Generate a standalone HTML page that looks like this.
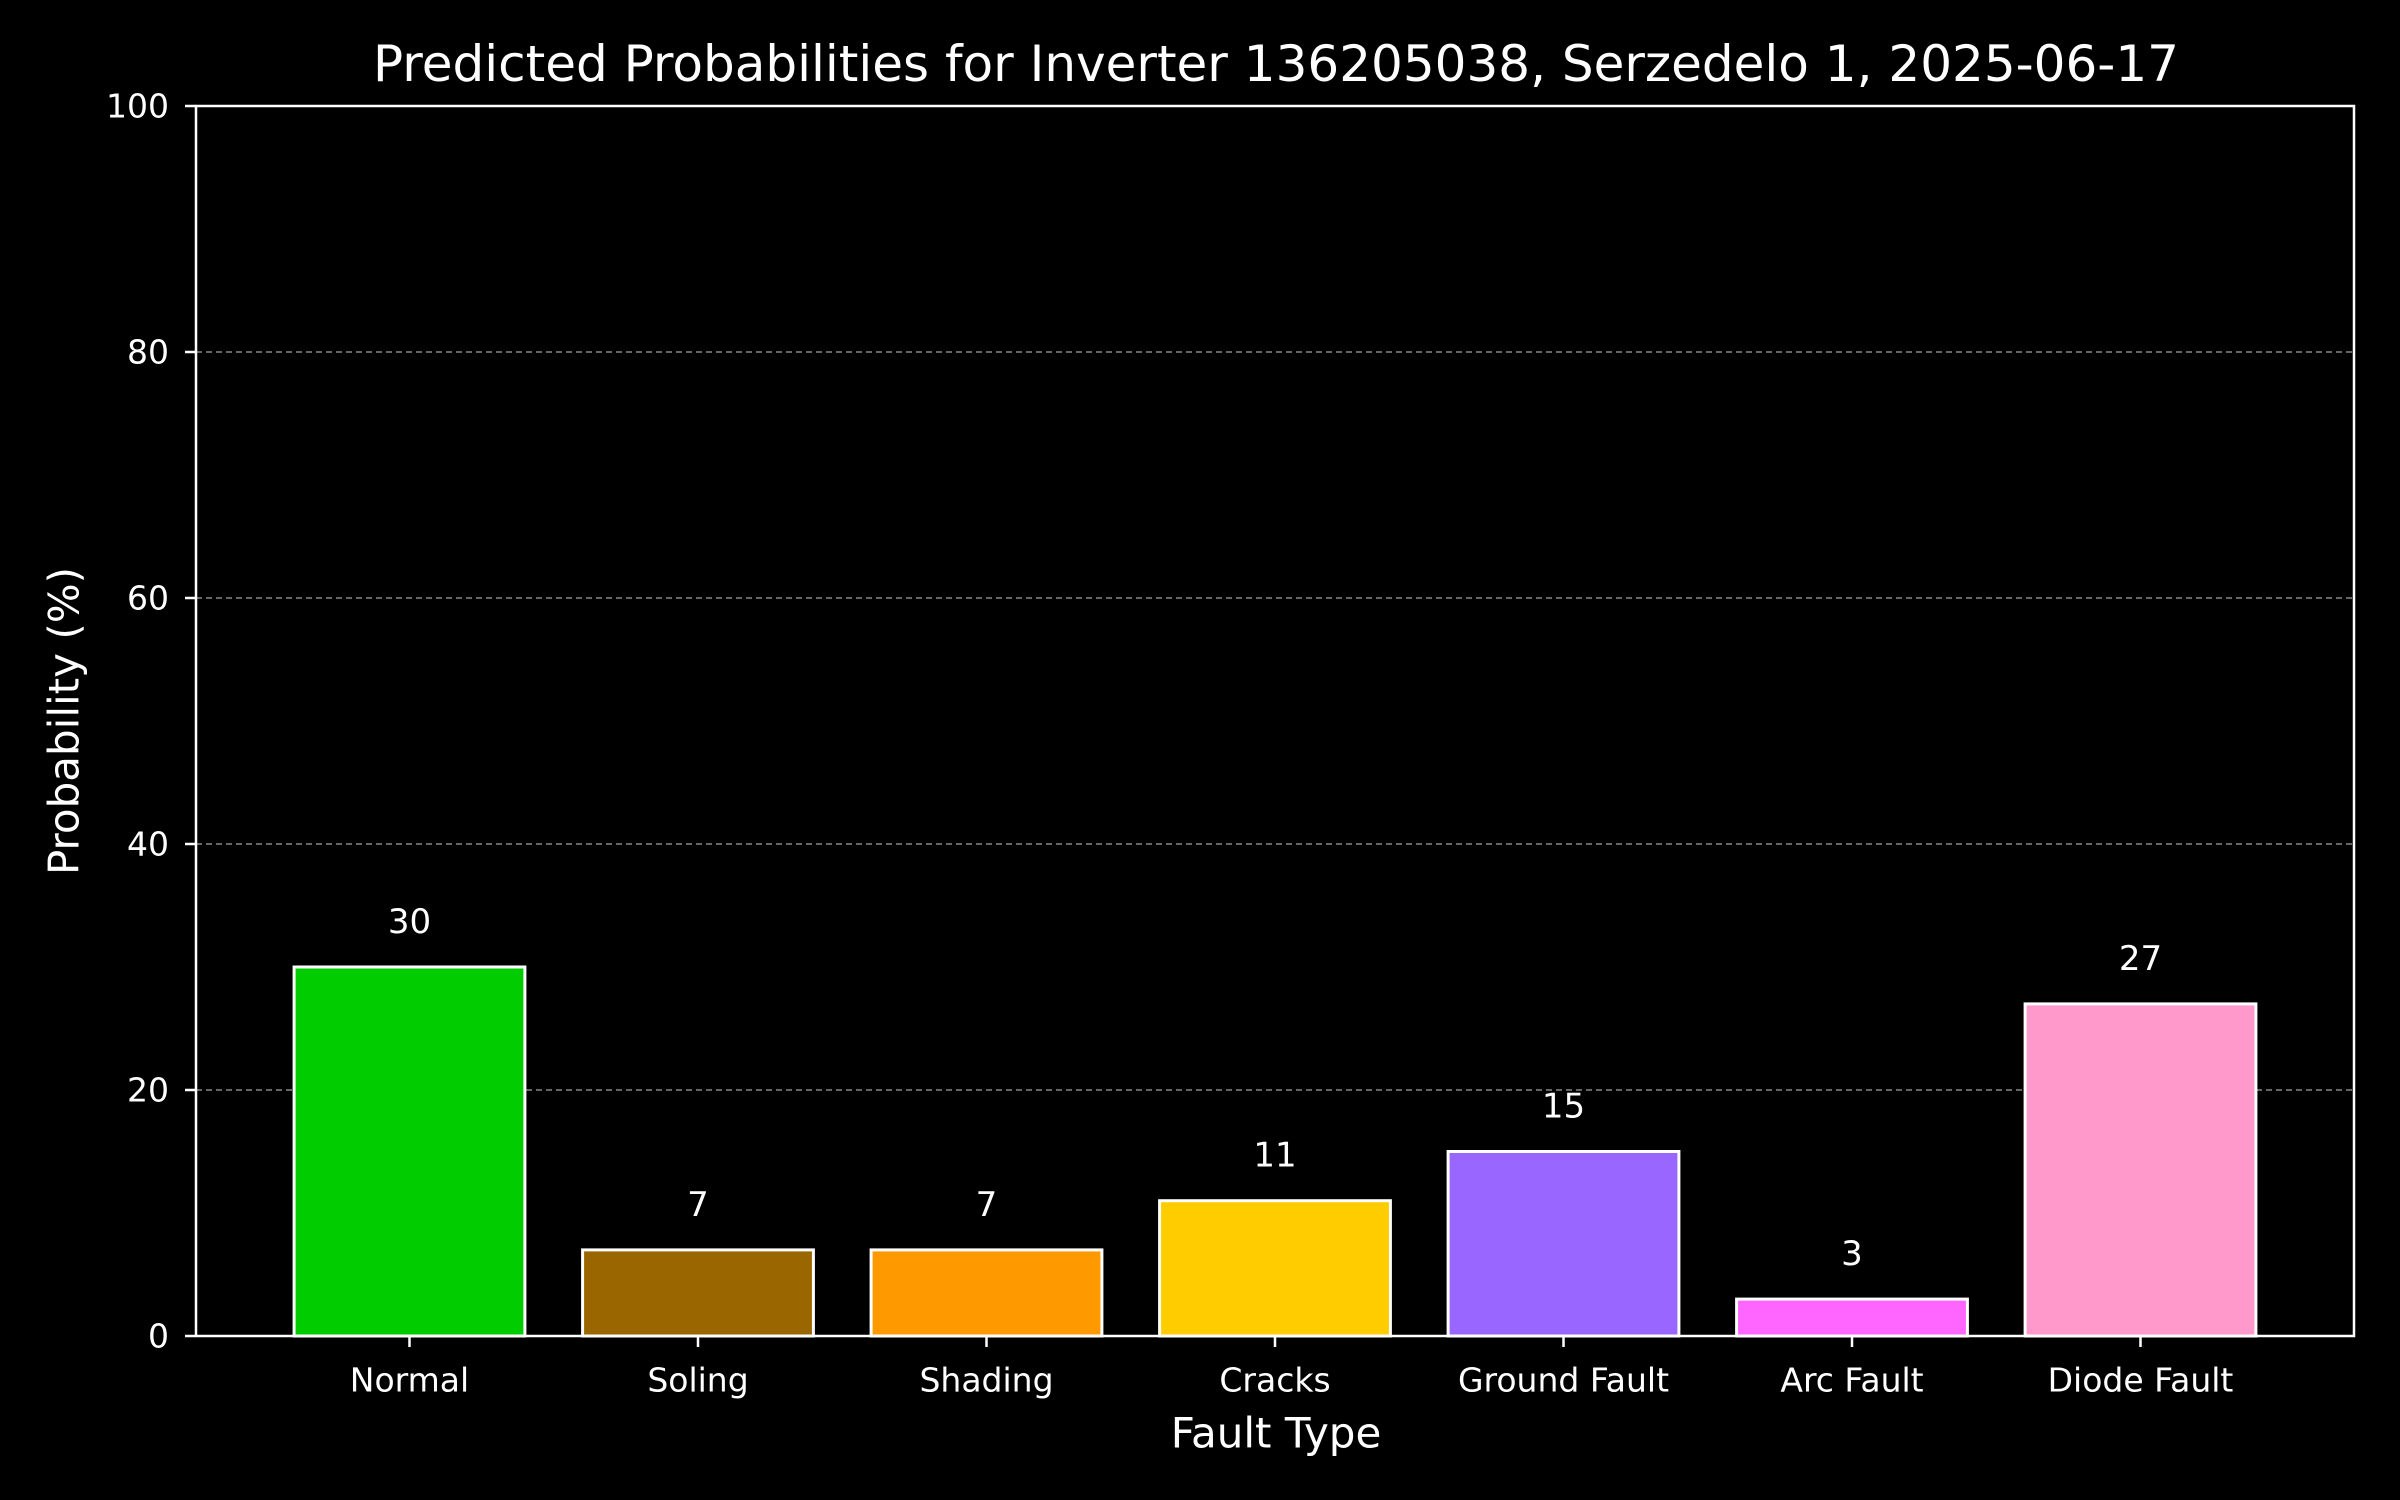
<!DOCTYPE html>
<html><head><meta charset="utf-8"><style>
html,body{margin:0;padding:0;background:#000;}
svg{display:block;}
text{font-family:"DejaVu Sans","Liberation Sans",sans-serif;fill:#fff;}
</style></head><body>
<svg id="chart" width="2400" height="1500" viewBox="0 0 2400 1500">
<rect x="0" y="0" width="2400" height="1500" fill="#000"/>
<text x="1276" y="64" font-size="50" text-anchor="middle" dominant-baseline="central">Predicted Probabilities for Inverter 136205038, Serzedelo 1, 2025-06-17</text>
<text x="1276" y="1433" font-size="42" text-anchor="middle" dominant-baseline="central">Fault Type</text>
<text x="0" y="0" font-size="42" text-anchor="middle" dominant-baseline="central" transform="translate(64,721) rotate(-90)">Probability (%)</text>
<g id="grid"></g><g id="bars"></g><g id="labels"></g><g id="axes"></g>
</svg>
<script>
const categories = ["Normal","Soling","Shading","Cracks","Ground Fault","Arc Fault","Diode Fault"];
const values = [30,7,7,11,15,3,27];
const barColors = ["#00cc00","#996600","#ff9900","#ffcc00","#9966ff","#ff66ff","#ff99cc"];
const yTicks = [0,20,40,60,80,100];
const gridTicks = [20,40,60,80];

const L=196,R=2354,T=106,B=1336;
const NS="http://www.w3.org/2000/svg";
function xScale(i){return L+(i+0.74)/7.48*(R-L);}
function yScale(v){return B-v/100*(B-T);}
const bw=0.8/7.48*(R-L);
function mk(tag,attrs,parent,txt){const e=document.createElementNS(NS,tag);for(const k in attrs)e.setAttribute(k,attrs[k]);if(txt!==undefined)e.textContent=txt;document.getElementById(parent).appendChild(e);return e;}

gridTicks.forEach(t=>{
  const g=mk('line',{x1:L,x2:R,y1:yScale(t),y2:yScale(t),stroke:'#888','stroke-width':1.6,'stroke-dasharray':'6,4'},'grid');
  
  
});
values.forEach((v,i)=>{
  const cx=xScale(i);
  const r=mk('rect',{x:cx-bw/2,y:yScale(v),width:bw,height:yScale(0)-yScale(v),fill:barColors[i],stroke:'#fff','stroke-width':3},'bars');
  
  
  const t=mk('text',{x:cx,y:yScale(v)-45,'font-size':34,'text-anchor':'middle','dominant-baseline':'central'},'labels',String(v));
  
  
  const tk=mk('line',{x1:cx,x2:cx,y1:B,y2:B+11,stroke:'#fff','stroke-width':2.5},'axes');
  
  
  const tl=mk('text',{x:cx,y:1380,'font-size':33,'text-anchor':'middle','dominant-baseline':'central'},'axes',categories[i]);
  
  
});
yTicks.forEach(t=>{
  const tk=mk('line',{x1:L-11,x2:L,y1:yScale(t),y2:yScale(t),stroke:'#fff','stroke-width':2.5},'axes');
  
  
  const tl=mk('text',{x:L-27,y:yScale(t),'font-size':33,'text-anchor':'end','dominant-baseline':'central'},'axes',String(t));
  
  
});
const frame=mk('rect',{x:L,y:T,width:R-L,height:B-T,fill:'none',stroke:'#fff','stroke-width':2.5},'axes');


</script>
</body></html>
